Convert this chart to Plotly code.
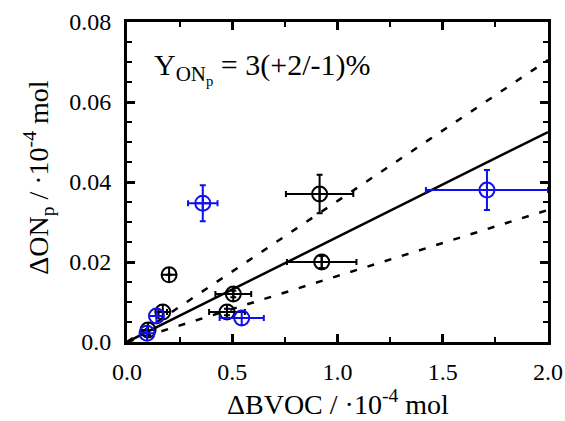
import plotly.graph_objects as go

# Black series
black_x = [0.10, 0.17, 0.20, 0.475, 0.505, 0.915, 0.925]
black_y = [0.003, 0.0075, 0.0168, 0.0075, 0.012, 0.037, 0.020]
black_xerr = [0.0, 0.02, 0.0, 0.085, 0.085, 0.16, 0.165]
black_yerr = [0.0, 0.0, 0.0, 0.0008, 0.0008, 0.0048, 0.0015]

# Blue series
blue_x = [0.095, 0.14, 0.36, 0.545, 1.71]
blue_y = [0.0022, 0.0065, 0.0347, 0.006, 0.038]
blue_xerr = [0.0, 0.0, 0.07, 0.105, 0.29]
blue_yerr = [0.0, 0.0, 0.0045, 0.0, 0.005]

# Fit lines
fit_x = [0.0, 2.0]
fit_y = [0.0, 0.0525]
upper_y = [0.0, 0.0705]
lower_y = [0.0, 0.033]

xticks = [0.0, 0.5, 1.0, 1.5, 2.0]
xticklabels = ["0.0", "0.5", "1.0", "1.5", "2.0"]
yticks = [0.0, 0.02, 0.04, 0.06, 0.08]
yticklabels = ["0.0", "0.02", "0.04", "0.06", "0.08"]

FONT = "Liberation Serif"
BLUE = "#1010ee"

fig = go.Figure()

for yy in (upper_y, lower_y):
    fig.add_trace(go.Scatter(x=fit_x, y=yy, mode="lines",
                             line=dict(color="black", width=2.5, dash="7px,11px"),
                             showlegend=False))
fig.add_trace(go.Scatter(x=fit_x, y=fit_y, mode="lines",
                         line=dict(color="black", width=2.5),
                         showlegend=False))

fig.add_trace(go.Scatter(
    x=black_x, y=black_y, mode="markers",
    marker=dict(symbol="circle-cross-open", size=15, color="black",
                line=dict(width=2, color="black")),
    error_x=dict(type="data", array=black_xerr, color="black", thickness=2, width=3),
    error_y=dict(type="data", array=black_yerr, color="black", thickness=2, width=3),
    showlegend=False))

fig.add_trace(go.Scatter(
    x=blue_x, y=blue_y, mode="markers",
    marker=dict(symbol="circle-cross-open", size=15, color=BLUE,
                line=dict(width=2, color=BLUE)),
    error_x=dict(type="data", array=blue_xerr, color=BLUE, thickness=2, width=3),
    error_y=dict(type="data", array=blue_yerr, color=BLUE, thickness=2, width=3),
    showlegend=False))

axis_common = dict(
    showline=True, linecolor="black", linewidth=3, mirror="ticks",
    ticks="inside", ticklen=8, tickwidth=3, tickcolor="black",
    showgrid=False, zeroline=False, automargin=False,
    tickfont=dict(family=FONT, size=24, color="black"),
)

fig.update_xaxes(
    range=[0, 2.0], tickvals=xticks, ticktext=xticklabels,
    ticklabeloverflow="allow", ticklabelstandoff=6,
    minor=dict(dtick=0.25, ticks="inside", ticklen=5, tickwidth=2, tickcolor="black"),
    **axis_common)
fig.update_yaxes(
    range=[0, 0.08], tickvals=yticks, ticktext=yticklabels,
    ticklabelstandoff=8,
    minor=dict(dtick=0.005, ticks="inside", ticklen=5, tickwidth=2, tickcolor="black"),
    **axis_common)

# Axis titles
fig.add_annotation(
    x=0.5, y=-0.19, xref="paper", yref="paper", xanchor="center", yanchor="middle",
    text="ΔBVOC / ·10<sup>-4</sup> mol", showarrow=False,
    font=dict(family=FONT, size=28, color="black"))
fig.add_annotation(
    x=-0.21, y=0.512, xref="paper", yref="paper", xanchor="center", yanchor="middle",
    text="ΔON<sub>p</sub> / ·10<sup>-4</sup> mol", showarrow=False, textangle=-90,
    font=dict(family=FONT, size=28, color="black"))

fig.add_annotation(
    x=0.12, y=0.0685, xref="x", yref="y", xanchor="left", yanchor="middle",
    text="Y<sub>ON<sub>p</sub></sub> = 3(+2/-1)%", showarrow=False,
    font=dict(family=FONT, size=30, color="black"))

fig.update_layout(
    width=565, height=421,
    margin=dict(l=127, r=17, t=22, b=79),
    plot_bgcolor="white", paper_bgcolor="white",
)

# Remove the default page margin so the figure fills the window exactly.
page_fix = ("document.body.style.margin='0';"
            "document.body.style.overflow='hidden';"
            "document.documentElement.style.overflow='hidden';")

fig.write_html("out.html", post_script=page_fix,
               config={"displayModeBar": False})
